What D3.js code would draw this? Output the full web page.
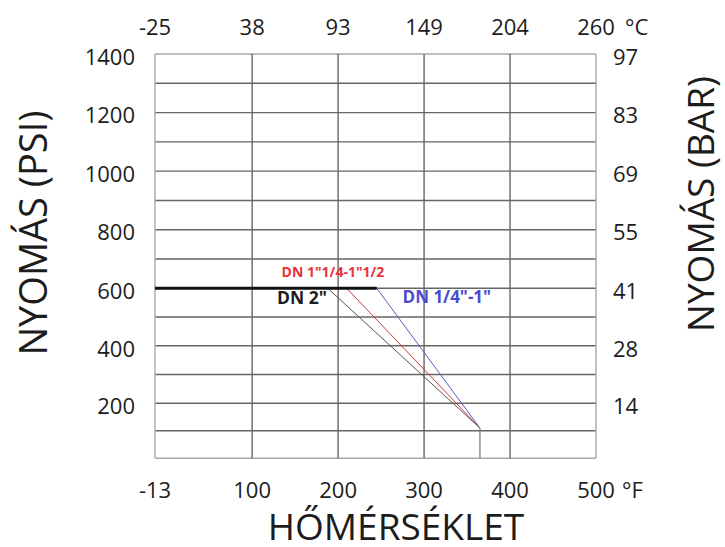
<!DOCTYPE html>
<html>
<head>
<meta charset="utf-8">
<script src="https://cdn.jsdelivr.net/npm/d3@7"></script>
<style>
  body { margin: 0; background: #fff; }
  text { font-family: "Open Sans", sans-serif; fill: #1c1c1c; }
</style>
</head>
<body>
<div id="chart"></div>
<script>
// Pressure / temperature rating chart

const width = 725;
const height = 547;

// Axis values
const fTicks = [-13, 100, 200, 300, 400, 500];
const cLabels = ["-25", "38", "93", "149", "204", "260"];
const psiTicks = [200, 400, 600, 800, 1000, 1200, 1400];
const barLabels = ["14", "28", "41", "55", "69", "83", "97"];
const psiGrid = [0, 100, 200, 300, 400, 500, 600, 700, 800, 900, 1000, 1100, 1200, 1300, 1400];

// Curves: [°F, psi]
const maxLine = [[-13, 600], [245, 600]];
const dn2 = [[188, 600], [365, 110]];
const dn114 = [[210, 600], [365, 110]];
const dn14 = [[245, 600], [365, 110]];
const dropLine = [[365, 110], [365, 0]];

// Curve labels: [text, °F, psi]
const curveLabels = [
  ['DN 1"1/4-1"1/2', 194, 655],
  ['DN 2"', 187, 568],
  ['DN 1/4"-1"', 275, 568]
];

const svg = d3.select("#chart")
  .append("svg")
  .attr("width", width)
  .attr("height", height);

// Scales (the drawn grid is slightly uneven, so y is piecewise)
const x = d3.scaleLinear().domain([-13, 500]).range([155, 596]);
const y = d3.scaleLinear().domain([0, 200, 600, 1400]).range([458.3, 403.3, 288.3, 54]);

const line = d3.line().x(d => x(d[0])).y(d => y(d[1]));

// Horizontal grid
svg.append("g")
  .selectAll("line")
  .data(psiGrid)
  .enter().append("line")
  .attr("x1", x(-13)).attr("x2", x(500))
  .attr("y1", d => y(d)).attr("y2", d => y(d))
  .attr("stroke", (d, i) => (i === 0 || i === psiGrid.length - 1) ? "#a8a8a8" : "#666")
  .attr("stroke-width", 1.4);

// Vertical grid
svg.append("g")
  .selectAll("line")
  .data(fTicks)
  .enter().append("line")
  .attr("x1", d => x(d)).attr("x2", d => x(d))
  .attr("y1", y(1400)).attr("y2", y(0))
  .attr("stroke", (d, i) => (i === 0 || i === fTicks.length - 1) ? "#a8a8a8" : "#666")
  .attr("stroke-width", 1.4);

// Curves
svg.append("path").attr("d", line(dropLine))
  .attr("fill", "none").attr("stroke", "#777").attr("stroke-width", 1.2);
svg.append("path").attr("d", line(dn2))
  .attr("fill", "none").attr("stroke", "#555").attr("stroke-width", 1);
svg.append("path").attr("d", line(dn114))
  .attr("fill", "none").attr("stroke", "#c63c3c").attr("stroke-width", 1);
svg.append("path").attr("d", line(dn14))
  .attr("fill", "none").attr("stroke", "#5a5ac8").attr("stroke-width", 1);
svg.append("path").attr("d", line(maxLine))
  .attr("fill", "none").attr("stroke", "#111").attr("stroke-width", 3);

// Curve labels
const labelColors = ["#e8343c", "#1c1c1c", "#4b4bd2"];
const labelAnchors = ["middle", "end", "start"];
const labelSizes = ["14px", "17.5px", "17px"];
svg.append("g")
  .selectAll("text")
  .data(curveLabels)
  .enter().append("text")
  .attr("x", d => x(d[1]))
  .attr("y", d => y(d[2]))
  .attr("dy", "0.35em")
  .attr("text-anchor", (d, i) => labelAnchors[i])
  .style("fill", (d, i) => labelColors[i])
  .style("font-size", (d, i) => labelSizes[i])
  .style("font-weight", "bold")
  .text(d => d[0]);

// Bottom °F labels
svg.append("g")
  .selectAll("text")
  .data(fTicks)
  .enter().append("text")
  .attr("x", d => x(d))
  .attr("y", 490)
  .attr("dy", "0.35em")
  .attr("text-anchor", "middle")
  .style("font-size", "22px")
  .text(d => d);
svg.append("text").attr("x", x(500) + 26).attr("y", 490).attr("dy", "0.35em")
  .style("font-size", "22px").text("°F");

// Top °C labels
svg.append("g")
  .selectAll("text")
  .data(cLabels)
  .enter().append("text")
  .attr("x", (d, i) => x(fTicks[i]))
  .attr("y", 27)
  .attr("dy", "0.35em")
  .attr("text-anchor", "middle")
  .style("font-size", "22px")
  .text(d => d);
svg.append("text").attr("x", x(500) + 29).attr("y", 27).attr("dy", "0.35em")
  .style("font-size", "22px").text("°C");

// Left psi labels
svg.append("g")
  .selectAll("text")
  .data(psiTicks)
  .enter().append("text")
  .attr("x", 135)
  .attr("y", d => y(d) + 3)
  .attr("dy", "0.35em")
  .attr("text-anchor", "end")
  .style("font-size", "22px")
  .text(d => d);

// Right bar labels
svg.append("g")
  .selectAll("text")
  .data(barLabels)
  .enter().append("text")
  .attr("x", 613)
  .attr("y", (d, i) => y(psiTicks[i]) + 3)
  .attr("dy", "0.35em")
  .style("font-size", "22px")
  .text(d => d);

// Axis titles
svg.append("text")
  .attr("transform", "translate(47,233) rotate(-90)")
  .attr("text-anchor", "middle")
  .style("font-size", "38px")
  .text("NYOMÁS (PSI)");
svg.append("text")
  .attr("transform", "translate(714,204) rotate(-90)")
  .attr("text-anchor", "middle")
  .style("font-size", "37px")
  .text("NYOMÁS (BAR)");
svg.append("text")
  .attr("x", 396)
  .attr("y", 540)
  .attr("text-anchor", "middle")
  .style("font-size", "37px")
  .text("HŐMÉRSÉKLET");
</script>
</body>
</html>
